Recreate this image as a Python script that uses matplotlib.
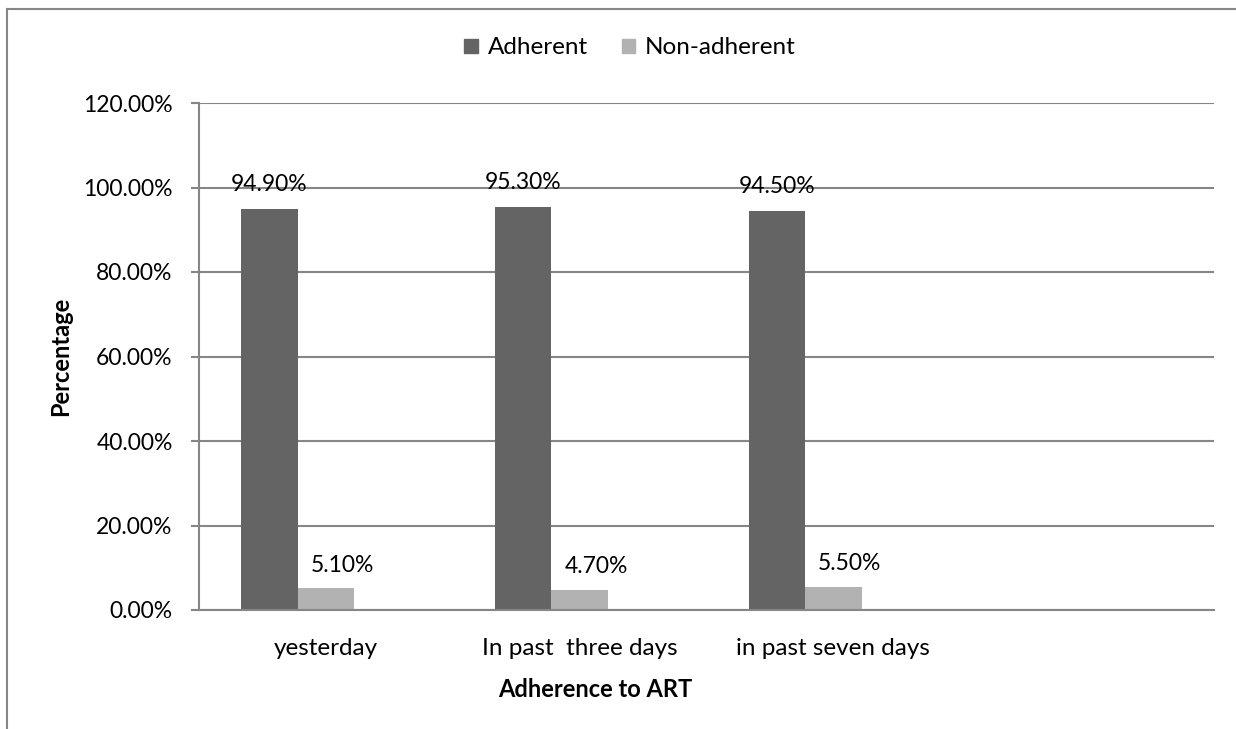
import numpy as np
import matplotlib.pyplot as plt
from matplotlib.lines import Line2D
from matplotlib.patches import Patch

plt.rcParams['font.family'] = ['Lato', 'DejaVu Sans']

# --- datos ---
categorias = ['yesterday', 'In past  three days', 'in past seven days', '']
adherente = [94.9, 95.3, 94.5]
no_adherente = [5.1, 4.7, 5.5]
series = ['Adherent', 'Non-adherent']
yticks = [0, 20, 40, 60, 80, 100, 120]

c_osc = '#646464'
c_cla = '#b2b2b2'
c_lin = '#868686'
fs_num = 16.5
fs_txt = 17.5

fig = plt.figure(figsize=(12.36, 7.29), dpi=100)
ax = fig.add_axes([199/1236, 119/729, 1015/1236, 507/729])

x = np.arange(len(adherente))
w = 1 / 4.5  # tres series + hueco de 150 %

ax.bar(x - w, adherente, width=w, color=c_osc)
ax.bar(x, no_adherente, width=w, color=c_cla)

# etiquetas de valor
for xi, v in zip(x - w, adherente):
    ax.annotate(f'{v:.2f}%', (xi, v), xytext=(0, 13), textcoords='offset points',
                ha='center', va='baseline', fontsize=fs_num)
for xi, v in zip(x, no_adherente):
    ax.annotate(f'{v:.2f}%', (xi + 0.065, v), xytext=(0, 12), textcoords='offset points',
                ha='center', va='baseline', fontsize=fs_num)

ax.set_xlim(-0.5, 3.5)
ax.set_ylim(0, 120)
ax.set_yticks(yticks)
ax.set_yticklabels([f'{t:.2f}%' for t in yticks], fontsize=fs_num)
ax.set_xticks(np.arange(len(categorias)))
ax.set_xticklabels(categorias, fontsize=fs_txt)
ax.tick_params(axis='x', length=0, pad=20)
ax.tick_params(axis='y', length=6, color=c_lin, width=1.5, pad=13)

ax.grid(True, axis='y', color=c_lin, linewidth=1.5)
ax.set_axisbelow(True)
for s in ['top', 'right']:
    ax.spines[s].set_visible(False)
for s in ['left', 'bottom']:
    ax.spines[s].set_color(c_lin)
    ax.spines[s].set_linewidth(1.5)

ax.set_ylabel('Percentage', fontsize=fs_txt - 0.5, fontweight='bold')
ax.yaxis.set_label_coords(-0.125, 0.5)
ax.set_xlabel('Adherence to ART', fontsize=fs_txt - 0.5, fontweight='bold')
ax.xaxis.set_label_coords(0.39, -0.135)

handles = [Patch(color=c_osc), Patch(color=c_cla)]
fig.legend(handles, series, loc='center', bbox_to_anchor=(630/1236, 1 - 48/729),
           ncol=2, frameon=False, fontsize=fs_txt, handlelength=0.55, handleheight=0.55,
           handletextpad=0.4, columnspacing=1.4)

# marco del gráfico
fig.add_artist(Line2D([7/1236, 7/1236], [0, 1 - 9/729], color=c_lin, lw=1.5))
fig.add_artist(Line2D([7/1236, 1], [1 - 9/729, 1 - 9/729], color=c_lin, lw=1.5))

fig.savefig('out.png', dpi=100)
